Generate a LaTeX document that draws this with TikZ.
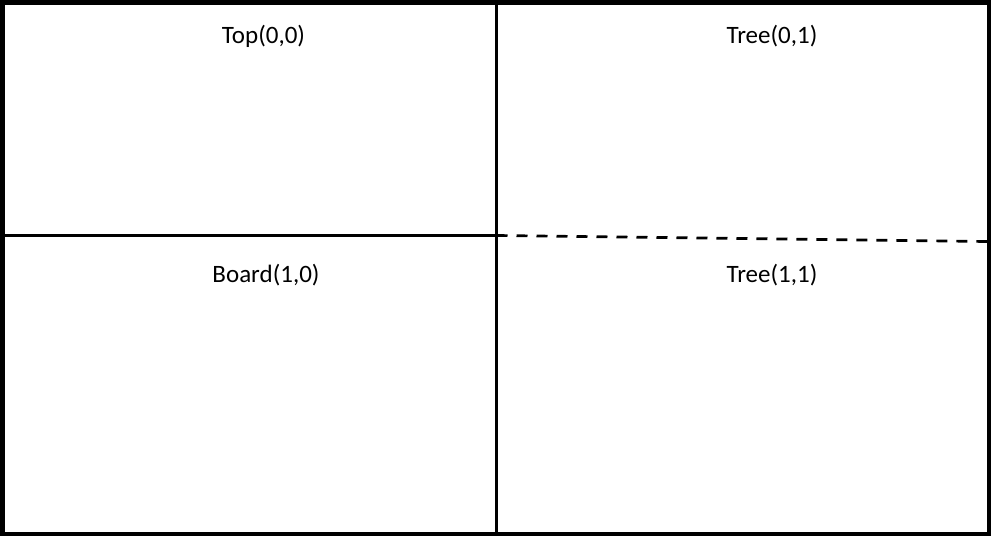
\documentclass[tikz,border=0pt]{standalone}
\usepackage{fontspec}
\setmainfont{Carlito}
\begin{document}
\begin{tikzpicture}[x=1pt,y=-1pt,
  frame/.style={line width=4.5pt},
  divider/.style={line width=2.7pt},
  dashdiv/.style={line width=2.7pt, dash pattern=on 11pt off 9pt},
  lbl/.style={anchor=base, inner sep=0pt, font=\fontsize{25}{29}\selectfont}]
\useasboundingbox (0,0) rectangle (991,536);
\draw[frame] (2.25,2.25) rectangle (988.75,533.75);
\coordinate (vtop) at (496.5,4);
\coordinate (vbot) at (496.5,532);
\coordinate (hl) at (4,235.5);
\coordinate (hm) at (496.5,235.5);
\coordinate (hr) at (987,241.5);
\draw[divider] (vtop) -- (vbot);
\draw[divider] (hl) -- (hm);
\draw[dashdiv] (hm) -- (hr);
\node[lbl] (top) at (263.5,43.5) {Top(0,0)};
\node[lbl] (tree01) at (772,43.5) {Tree(0,1)};
\node[lbl] (board) at (266,282.5) {Board(1,0)};
\node[lbl] (tree11) at (772,282.5) {Tree(1,1)};
\end{tikzpicture}
\end{document}
